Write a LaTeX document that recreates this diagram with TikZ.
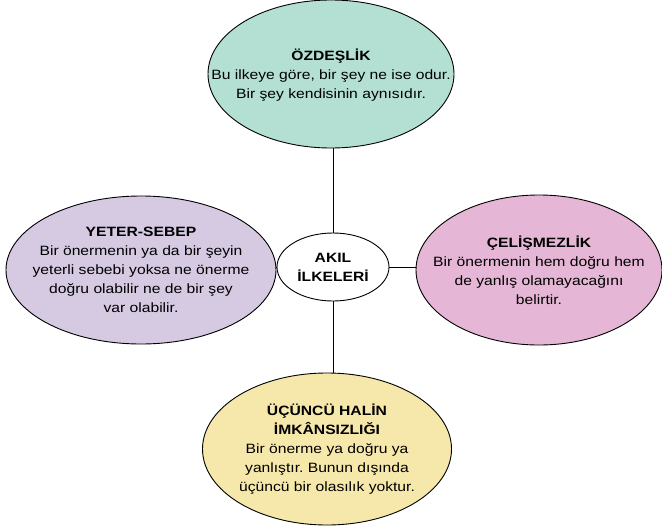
\documentclass[tikz,border=0pt]{standalone}
\usepackage{fontspec}
\setmainfont[FakeStretch=1.16]{Liberation Sans}
\usetikzlibrary{shapes.geometric}
\frenchspacing
\definecolor{cteal}{RGB}{180,224,212}
\definecolor{clav}{RGB}{214,202,227}
\definecolor{cpink}{RGB}{229,182,213}
\definecolor{ccream}{RGB}{246,231,170}
\tikzset{
  shell/.style={ellipse, draw=black, line width=0.9pt, inner sep=0pt},
  words/.style={inner sep=0pt, align=center, font=\fontsize{13.5}{19}\selectfont},
  conn/.style={draw=black, line width=0.9pt}
}
\begin{document}
\begin{tikzpicture}[x=1pt,y=-1pt]
\useasboundingbox (0,0) rectangle (662,528);
\node[shell, fill=cteal, minimum width=246pt, minimum height=148pt] (t) at (331,74) {};
\node[words] (tt) at ([yshift=-1.5pt]t.center)
  {\textbf{ÖZDEŞLİK}\\Bu ilkeye göre, bir şey ne ise odur.\\Bir şey kendisinin aynısıdır.};
\node[shell, fill=clav, minimum width=270pt, minimum height=148pt] (l) at (141,270) {};
\node[words] (lt) at (l.center)
  {\textbf{YETER-SEBEP}\\Bir önermenin ya da bir şeyin\\yeterli sebebi yoksa ne önerme\\doğru olabilir ne de bir şey\\var olabilir.};
\node[shell, fill=cpink, minimum width=246pt, minimum height=150pt] (r) at (539,270) {};
\node[words] (rt) at (r.center)
  {\textbf{ÇELİŞMEZLİK}\\Bir önermenin hem doğru hem\\de yanlış olamayacağını\\belirtir.};
\node[shell, fill=ccream, minimum width=249pt, minimum height=152pt] (b) at (327,449) {};
\node[words] (bt) at (b.center)
  {\textbf{ÜÇÜNCÜ HALİN}\\\textbf{İMKÂNSIZLIĞI}\\Bir önerme ya doğru ya\\yanlıştır. Bunun dışında\\üçüncü bir olasılık yoktur.};
\node[shell, fill=white, minimum width=112pt, minimum height=68pt] (c) at (333,267) {};
\node[words] (ct) at (c.center) {\textbf{AKIL}\\\textbf{İLKELERİ}};
\draw[conn] (c.north) -- (c.north |- t.south);
\draw[conn] (c.south) -- (c.south |- b.north);
\draw[conn] (c.west) -- (c.west -| l.east);
\draw[conn] (c.east) -- (c.east -| r.west);
\end{tikzpicture}
\end{document}
